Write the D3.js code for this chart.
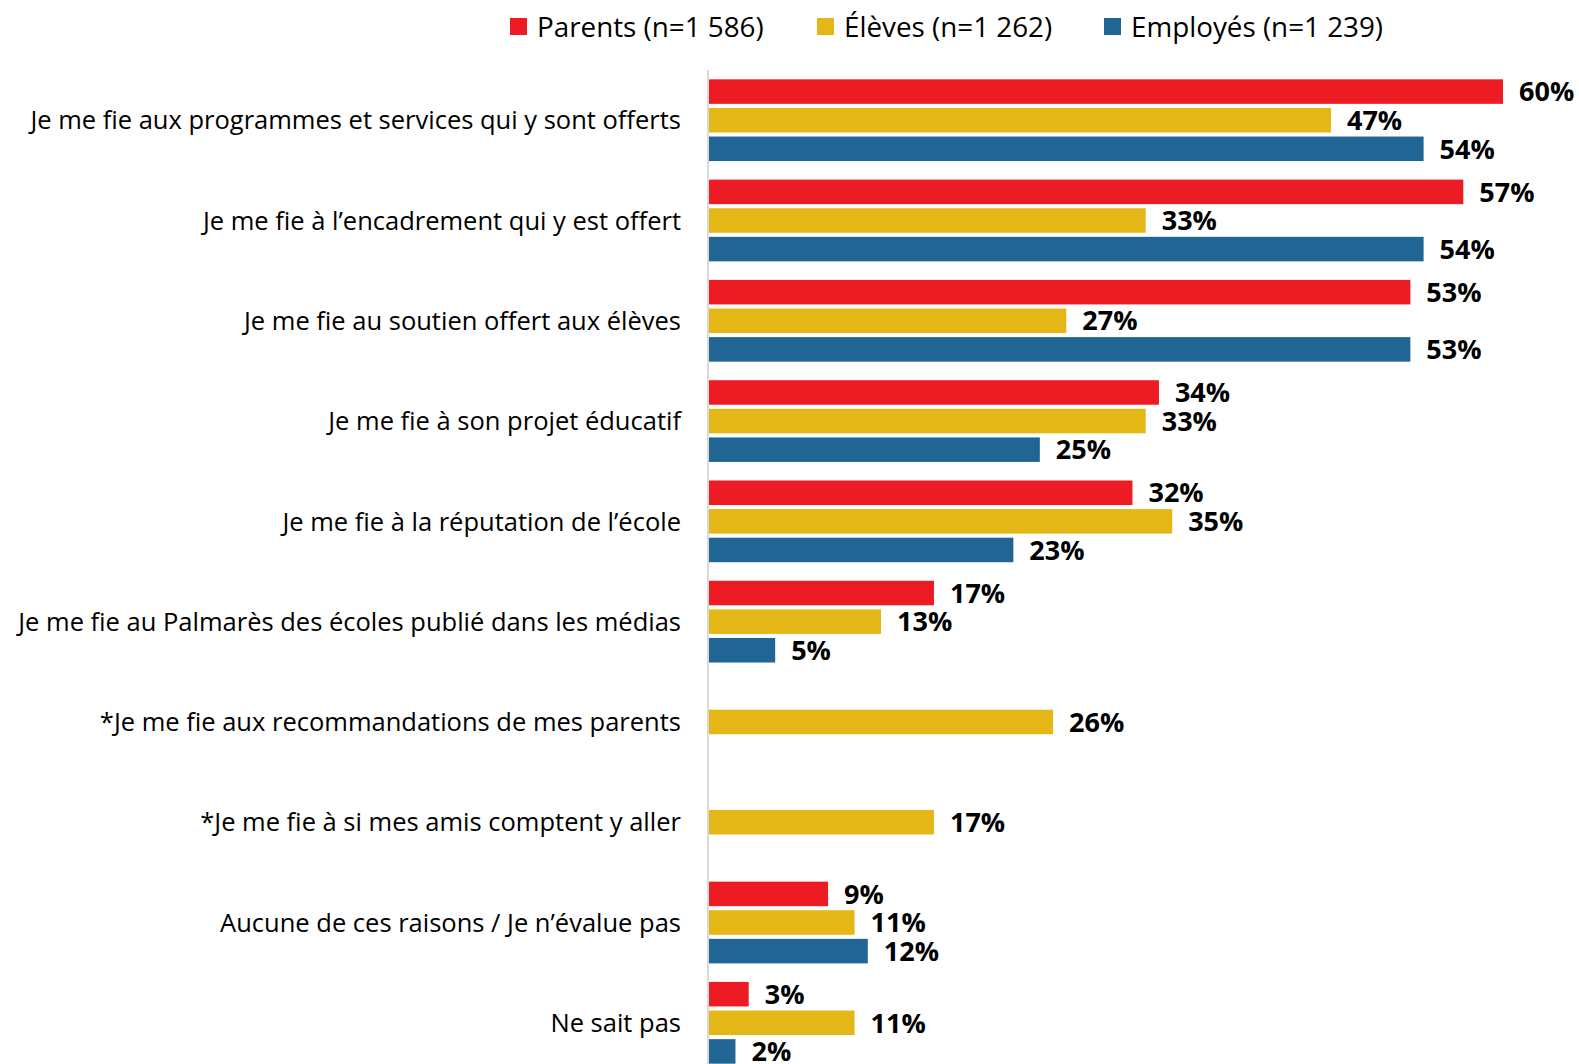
<!DOCTYPE html>
<html>
<head>
<meta charset="utf-8">
<script src="https://cdn.jsdelivr.net/npm/d3@7"></script>
<style>
  body { margin: 0; background: #fff; }
  svg { display: block; }
</style>
</head>
<body>
<svg id="chart" width="1579" height="1064"></svg>
<script>
const width = 1579, height = 1064;

// categories and series
const categories = [
    "Je me fie aux programmes et services qui y sont offerts",
    "Je me fie à l’encadrement qui y est offert",
    "Je me fie au soutien offert aux élèves",
    "Je me fie à son projet éducatif",
    "Je me fie à la réputation de l’école",
    "Je me fie au Palmarès des écoles publié dans les médias",
    "*Je me fie aux recommandations de mes parents",
    "*Je me fie à si mes amis comptent y aller",
    "Aucune de ces raisons / Je n’évalue pas",
    "Ne sait pas"
];
const seriesNames = ["Parents (n=1 586)", "Élèves (n=1 262)", "Employés (n=1 239)"];
const parents  = [60, 57, 53, 34, 32, 17, null, null, 9, 3];
const eleves   = [47, 33, 27, 33, 35, 13, 26, 17, 11, 11];
const employes = [54, 54, 53, 25, 23, 5, null, null, 12, 2];
const colors = ["#ed1c24", "#e4b716", "#216594"];

const seriesValues = [parents, eleves, employes];

const svg = d3.select("#chart");

const x = d3.scaleLinear()
    .domain([0, 60])
    .range([709, 1503]);

const y = d3.scaleBand()
    .domain(categories)
    .range([70, 1073])
    .paddingInner(0.185)
    .paddingOuter(0.093);

const ySub = d3.scaleBand()
    .domain(d3.range(seriesNames.length))
    .range([0, y.bandwidth()])
    .paddingInner(0.143)
    .paddingOuter(0);

// vertical axis line
svg.append("line")
    .attr("x1", 708).attr("x2", 708)
    .attr("y1", 70).attr("y2", height)
    .attr("stroke", "#d9d9d9")
    .attr("stroke-width", 2);

// bars
const rows = [];
categories.forEach((c, i) => {
    seriesValues.forEach((vals, s) => {
        if (vals[i] != null) rows.push({cat: c, s: s, v: vals[i]});
    });
});

svg.append("g").selectAll("rect")
    .data(rows)
    .join("rect")
    .attr("x", x(0))
    .attr("y", d => y(d.cat) + ySub(d.s))
    .attr("width", d => x(d.v) - x(0))
    .attr("height", ySub.bandwidth())
    .attr("fill", d => colors[d.s]);

svg.append("g").selectAll("text")
    .data(rows)
    .join("text")
    .attr("x", d => x(d.v) + 16)
    .attr("y", d => y(d.cat) + ySub(d.s) + ySub.bandwidth() / 2)
    .attr("dy", "0.36em")
    .attr("font-family", "'Open Sans', sans-serif")
    .attr("font-weight", "bold")
    .attr("font-size", 27)
    .attr("fill", "#000")
    .text(d => d.v + "%");

// category labels
svg.append("g").selectAll("text")
    .data(categories)
    .join("text")
    .attr("x", 681)
    .attr("y", d => y(d) + y.bandwidth() / 2)
    .attr("dy", "0.36em")
    .attr("text-anchor", "end")
    .attr("font-family", "'Open Sans', sans-serif")
    .attr("font-size", 25.5)
    .attr("fill", "#000")
    .text(d => d);

// legend
const legendX = [510, 817, 1104];
const legend = svg.append("g").selectAll("g")
    .data(seriesNames)
    .join("g")
    .attr("transform", (d, i) => `translate(${legendX[i]},0)`);

legend.append("rect")
    .attr("x", 0).attr("y", 18)
    .attr("width", 17).attr("height", 17)
    .attr("fill", (d, i) => colors[i]);

legend.append("text")
    .attr("x", 27)
    .attr("y", 27)
    .attr("dy", "0.36em")
    .attr("font-family", "'Open Sans', sans-serif")
    .attr("font-size", 27.8)
    .attr("fill", "#000")
    .text(d => d);
</script>
</body>
</html>
